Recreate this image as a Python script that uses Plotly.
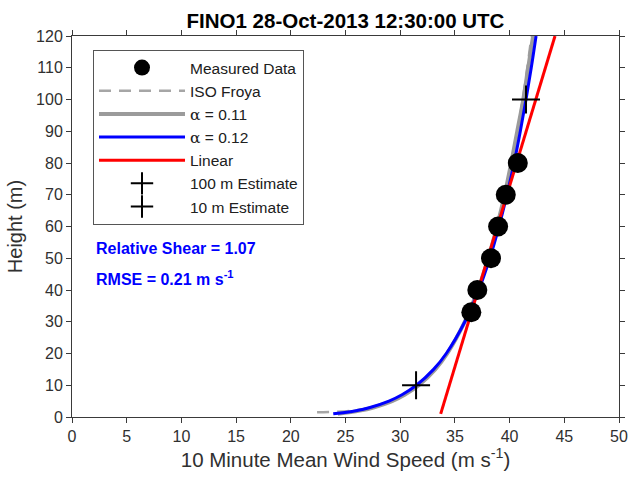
import plotly.graph_objects as go

# Measured data
meas_height = [33, 40, 50, 60, 70, 80]
meas_speed = [36.5, 37.05, 38.3, 38.95, 39.65, 40.75]

# Profile curves
curve_height = [1, 2, 3, 5, 7, 10, 15, 20, 30, 40, 50, 60, 70, 80, 90, 100, 110, 120]
alpha012_speed = [23.88, 25.95, 27.24, 28.97, 30.16, 31.48, 33.05, 34.21, 35.91, 37.18,
                  38.19, 39.03, 39.76, 40.41, 40.98, 41.50, 41.98, 42.42]
alpha011_speed = [24.3, 26.3, 27.55, 29.25, 30.4, 31.7, 33.2, 34.3, 35.9, 37.1,
                  38.05, 38.85, 39.55, 40.15, 40.7, 41.25, 41.7, 42.15]
froya_height = [1.5, 2, 3, 5, 10, 20, 40, 60, 80, 100, 120]
froya_speed = [22.4, 25.6, 27.3, 29.1, 31.6, 34.3, 37.1, 38.9, 40.2, 41.2, 42.0]
linear_height = [1, 120]
linear_speed = [33.70, 44.15]

est100_speed, est100_height = [41.5], [100]
est10_speed, est10_height = [31.45], [10]

x_ticks = list(range(0, 51, 5))
y_ticks = list(range(0, 121, 10))

FONT = "Liberation Sans, Arial, sans-serif"
AX = "#3a3a3a"

W, H = 630, 482
L, T, R, B = 72, 36, 11, 65
PW, PH = W - L - R, H - T - B


def px_x(page_x):
    return (page_x - L) / PW


def px_y(page_y):
    return (H - B - page_y) / PH


fig = go.Figure()
fig.add_trace(go.Scatter(x=froya_speed, y=froya_height, mode="lines", name="ISO Froya",
                         line=dict(color="#a6a6a6", width=2.5, dash="12px,8px", shape="spline"),
                         legendrank=2))
fig.add_trace(go.Scatter(x=alpha011_speed, y=curve_height, mode="lines",
                         name='<span style="font-family:DejaVu Serif">α</span> = 0.11',
                         line=dict(color="#9b9b9b", width=4, shape="spline"), legendrank=3))
fig.add_trace(go.Scatter(x=alpha012_speed, y=curve_height, mode="lines",
                         name='<span style="font-family:DejaVu Serif">α</span> = 0.12',
                         line=dict(color="#0000ff", width=3, shape="spline"), legendrank=4))
fig.add_trace(go.Scatter(x=linear_speed, y=linear_height, mode="lines", name="Linear",
                         line=dict(color="#ff0000", width=3), legendrank=5))
fig.add_trace(go.Scatter(x=meas_speed, y=meas_height, mode="markers", name="Measured Data",
                         marker=dict(color="black", size=20), legendrank=1))
fig.add_trace(go.Scatter(x=est100_speed, y=est100_height, mode="markers", name="100 m Estimate",
                         marker=dict(symbol="cross-thin", size=20, line=dict(color="black", width=2)),
                         legendrank=6))
fig.add_trace(go.Scatter(x=est10_speed, y=est10_height, mode="markers", name="10 m Estimate",
                         marker=dict(symbol="cross-thin", size=20, line=dict(color="black", width=2)),
                         legendrank=7))

fig.add_annotation(x=px_x(94), y=px_y(248), xref="paper", yref="paper",
                   xanchor="left", yanchor="middle", text="<b>Relative Shear = 1.07</b>",
                   showarrow=False, font=dict(family=FONT, size=16, color="#0000ff"))
fig.add_annotation(x=px_x(94), y=px_y(278), xref="paper", yref="paper",
                   xanchor="left", yanchor="middle", text="<b>RMSE = 0.21 m s<sup>-1</sup></b>",
                   showarrow=False, font=dict(family=FONT, size=16, color="#0000ff"))

axis_common = dict(showline=True, linecolor=AX, linewidth=1, mirror="ticks", ticks="outside",
                   ticklen=5, tickcolor=AX, showgrid=False, zeroline=False, automargin=False,
                   tickfont=dict(family=FONT, size=16, color="#303030"))
fig.update_xaxes(range=[0, 50], tickvals=x_ticks, ticktext=[str(v) for v in x_ticks],
                 title=dict(text="10 Minute Mean Wind Speed (m s<sup>-1</sup>)",
                            font=dict(family=FONT, size=20.5, color="#303030"), standoff=8),
                 **axis_common)
fig.update_yaxes(range=[0, 120], tickvals=y_ticks, ticktext=[str(v) for v in y_ticks],
                 title=dict(text="Height (m)", font=dict(family=FONT, size=20, color="#303030"),
                            standoff=8),
                 **axis_common)

fig.update_layout(
    width=W, height=H,
    margin=dict(l=L, r=R, t=T, b=B),
    paper_bgcolor="white", plot_bgcolor="white",
    title=dict(text="<b>FINO1 28-Oct-2013 12:30:00 UTC</b>", x=345.5 / W, xanchor="center",
               y=1 - 21 / H, yanchor="middle",
               font=dict(family=FONT, size=20.5, color="black")),
    legend=dict(x=px_x(93), y=px_y(50), xanchor="left", yanchor="top",
                bgcolor="white", bordercolor="#555555", borderwidth=1, itemwidth=86,
                font=dict(family=FONT, size=15.5, color="#202020"), traceorder="normal"),
    showlegend=True,
)

fig.write_html("out.html", config={"displayModeBar": False},
               post_script="document.body.style.margin='0';document.body.style.overflow='hidden';")
